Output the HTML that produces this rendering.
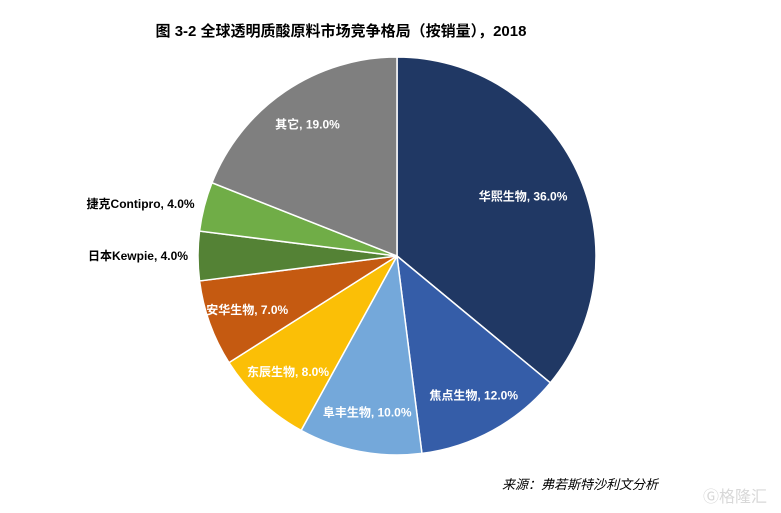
<!DOCTYPE html>
<html><head><meta charset="utf-8"><style>
html,body{margin:0;padding:0;background:#fff;}
svg{display:block;font-family:"Liberation Sans","Noto Sans CJK SC",sans-serif;}
</style></head><body>
<svg id="chart" width="781" height="513" viewBox="0 0 781 513">
<text x="341" y="36" text-anchor="middle" font-size="15" font-weight="bold" fill="#000">图 3-2  全球透明质酸原料市场竞争格局（按销量），2018</text>
<g id="slices"></g>
<g id="labels"></g>
<text x="502" y="489" font-size="13" font-style="italic" fill="#000">来源：弗若斯特沙利文分析</text>
<text x="703" y="502" font-size="16" fill="#d8d8d8">Ⓖ格隆汇</text>
</svg>
<script>
const categories=["华熙生物","焦点生物","阜丰生物","东辰生物","安华生物","日本Kewpie","捷克Contipro","其它"];
const values=[36.0,12.0,10.0,8.0,7.0,4.0,4.0,19.0];
const colors=["#203864","#355da8","#74a8da","#fbbf06","#c55a11","#548235","#70ad47","#7f7f7f"];
const cx=397,cy=256,r=199;
const NS="http://www.w3.org/2000/svg";
const total=values.reduce((a,b)=>a+b,0);
function pt(frac,rad){const a=frac*2*Math.PI;return [cx+rad*Math.sin(a),cy-rad*Math.cos(a)];}
let cum=0;
const sg=document.getElementById('slices'),lg=document.getElementById('labels');
values.forEach((v,i)=>{
  const f0=cum/total,f1=(cum+v)/total;cum+=v;
  const p0=pt(f0,r),p1=pt(f1,r);
  const large=(f1-f0)>0.5?1:0;
  const p=document.createElementNS(NS,'path');
  p.setAttribute('d',`M${cx},${cy}L${p0[0]},${p0[1]}A${r},${r} 0 ${large} 1 ${p1[0]},${p1[1]}Z`);
  p.setAttribute('fill',colors[i]);p.setAttribute('stroke','#fff');p.setAttribute('stroke-width','1.5');
  
  
  sg.appendChild(p);
  const fm=(f0+f1)/2;
  const t=document.createElementNS(NS,'text');
  const outside=v<5;
  const lr=outside?209:(v>30?r*0.7:r*0.8);
  const lp=pt(fm,lr);
  t.setAttribute('x',lp[0]);t.setAttribute('y',lp[1]+4);
  t.setAttribute('text-anchor',outside?'end':'middle');
  t.setAttribute('font-size','12');t.setAttribute('font-weight','bold');
  t.setAttribute('fill',outside?'#000':'#fff');
  t.textContent=categories[i]+', '+v.toFixed(1)+'%';
  
  
  lg.appendChild(t);
});
</script>
</body></html>
